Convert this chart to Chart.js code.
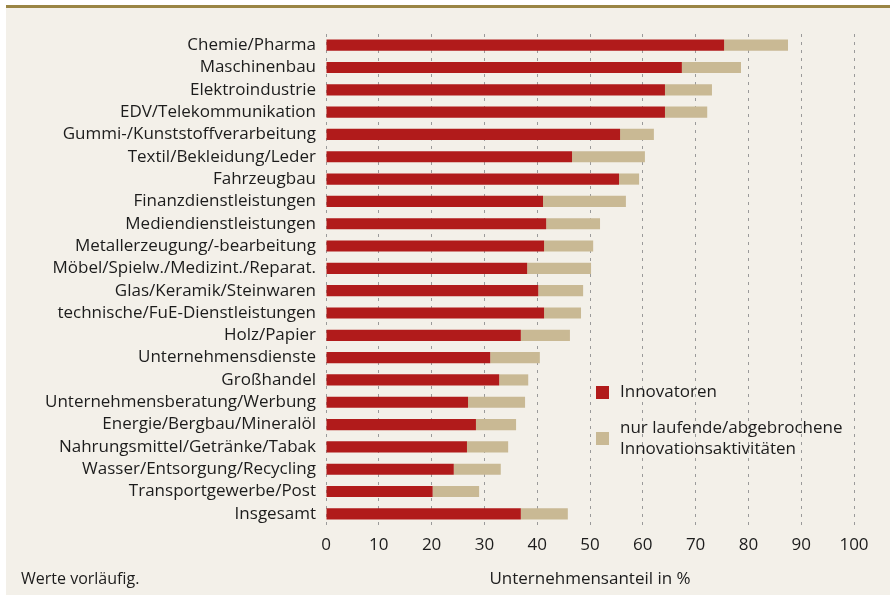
<!DOCTYPE html>
<html>
<head>
<meta charset="utf-8">
<script src="https://cdn.jsdelivr.net/npm/chart.js@4"></script>
<style>
    html, body { margin: 0; padding: 0; background: #ffffff; }
    #panel {
        position: absolute;
        left: 6px;
        top: 5px;
        width: 884px;
        height: 587px;
        background: #f3f0e9;
        border-top: 3px solid #9a8545;
    }
    #chart { display: block; }
</style>
</head>
<body>
<div id="panel"><canvas id="chart" width="884" height="587"></canvas></div>
<script>
const categories = [
    "Chemie/Pharma",
    "Maschinenbau",
    "Elektroindustrie",
    "EDV/Telekommunikation",
    "Gummi-/Kunststoffverarbeitung",
    "Textil/Bekleidung/Leder",
    "Fahrzeugbau",
    "Finanzdienstleistungen",
    "Mediendienstleistungen",
    "Metallerzeugung/-bearbeitung",
    "Möbel/Spielw./Medizint./Reparat.",
    "Glas/Keramik/Steinwaren",
    "technische/FuE-Dienstleistungen",
    "Holz/Papier",
    "Unternehmensdienste",
    "Großhandel",
    "Unternehmensberatung/Werbung",
    "Energie/Bergbau/Mineralöl",
    "Nahrungsmittel/Getränke/Tabak",
    "Wasser/Entsorgung/Recycling",
    "Transportgewerbe/Post",
    "Insgesamt"
];

// Innovatoren (red part)
const innovatoren = [75.4, 67.4, 64.2, 64.2, 55.7, 46.6, 55.5, 41.1, 41.7, 41.3, 38.1,
    40.2, 41.3, 36.9, 31.1, 32.8, 26.9, 28.4, 26.7, 24.2, 20.2, 36.9];

// nur laufende/abgebrochene Innovationsaktivitäten (tan part, stacked on top)
const laufende = [12.1, 11.2, 8.9, 8.0, 6.4, 13.8, 3.8, 15.7, 10.2, 9.3, 12.1,
    8.5, 7.0, 9.3, 9.4, 5.5, 10.8, 7.6, 7.8, 8.9, 8.8, 8.9];

const xTicks = [0, 10, 20, 30, 40, 50, 60, 70, 80, 90, 100];

const RED = "#b11b1b";
const TAN = "#c9b994";
const TEXT = "#1c1c1c";
const FONT = "'Open Sans', 'Noto Sans', sans-serif";

// legend drawn inside the plot, second label spans two lines
const legendPlugin = {
    id: "innerLegend",
    afterDraw(chart) {
        const ctx = chart.ctx;
        const area = chart.chartArea;
        const items = [
            { color: RED, box: 352, lines: ["Innovatoren"], base: 363 },
            { color: TAN, box: 398, lines: ["nur laufende/abgebrochene", "Innovationsaktivitäten"], base: 399 }
        ];
        ctx.save();
        ctx.font = "17px " + FONT;
        ctx.fillStyle = TEXT;
        ctx.textBaseline = "alphabetic";
        ctx.textAlign = "left";
        items.forEach(it => {
            ctx.fillStyle = it.color;
            ctx.fillRect(area.left + 270, area.top + it.box, 13, 13);
            ctx.fillStyle = TEXT;
            it.lines.forEach((t, i) => {
                ctx.fillText(t, area.left + 294, area.top + it.base + i * 21);
            });
        });

        // footnote
        ctx.font = "16px " + FONT;
        ctx.textBaseline = "middle";
        ctx.fillText("Werte vorläufig.", 15, 571);
        ctx.restore();
    }
};

new Chart(document.getElementById("chart"), {
    type: "bar",
    data: {
        labels: categories,
        datasets: [
            {
                label: "Innovatoren",
                data: innovatoren,
                backgroundColor: RED,
                barPercentage: 0.5,
                categoryPercentage: 1
            },
            {
                label: "nur laufende/abgebrochene Innovationsaktivitäten",
                data: laufende,
                backgroundColor: TAN,
                barPercentage: 0.5,
                categoryPercentage: 1
            }
        ]
    },
    options: {
        indexAxis: "y",
        responsive: false,
        animation: false,
        layout: { padding: { top: 26, right: 36, left: 0, bottom: 0 } },
        plugins: {
            legend: { display: false },
            tooltip: { enabled: false }
        },
        scales: {
            x: {
                stacked: true,
                min: 0,
                max: 100,
                afterBuildTicks: axis => { axis.ticks = xTicks.map(v => ({ value: v })); },
                afterFit: axis => { axis.height = 70; },
                grid: { color: "#9a9a9a", lineWidth: 1, drawTicks: false },
                border: { display: false, dash: [3, 5] },
                ticks: { color: TEXT, font: { family: FONT, size: 17 }, padding: 10, maxRotation: 0 },
                title: {
                    display: true,
                    text: "Unternehmensanteil in %",
                    color: TEXT,
                    font: { family: FONT, size: 17 },
                    padding: { top: 0, bottom: 6 }
                }
            },
            y: {
                stacked: true,
                afterFit: axis => { axis.width = 320; },
                grid: { display: false, drawTicks: false },
                border: { display: false },
                ticks: { color: TEXT, font: { family: FONT, size: 17 }, padding: 10, autoSkip: false }
            }
        }
    },
    plugins: [legendPlugin]
});
</script>
</body>
</html>
